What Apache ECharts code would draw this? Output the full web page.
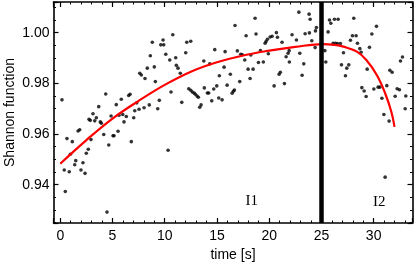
<!DOCTYPE html>
<html>
<head>
<meta charset="utf-8">
<script src="https://cdn.jsdelivr.net/npm/echarts@6/dist/echarts.min.js"></script>
<style>
html,body{margin:0;padding:0;background:#fff;}
#chart{width:415px;height:267px;}
</style>
</head>
<body>
<div id="chart"></div>
<script>
// measured time values of the scatter points [s]
const pointTime = [
0.16,0.38,0.48,0.64,0.86,0.96,1.15,1.38,1.48,1.70,
1.86,1.98,2.17,2.37,2.49,2.68,2.75,2.87,2.94,3.13,
3.30,3.45,3.68,3.83,3.93,4.16,4.35,4.47,4.64,4.86,
5.05,5.14,5.36,5.53,5.62,5.84,5.98,6.10,6.32,6.55,
6.68,6.80,7.03,7.13,7.32,7.54,7.61,7.76,8.02,8.11,
8.33,8.52,8.62,8.81,9.00,9.10,9.33,9.48,9.62,9.84,
9.90,10.10,10.32,10.48,10.60,10.77,11.05,11.11,11.27,11.49,
11.63,12.01,12.11,12.30,12.49,12.49,12.64,12.81,12.93,13.09,
13.22,13.35,13.48,13.74,13.79,14.08,14.21,14.31,14.50,14.69,
14.79,14.98,15.17,15.23,15.49,15.68,15.78,15.97,16.28,16.45,
16.57,16.67,16.73,16.95,17.18,17.28,17.43,17.66,17.79,17.98,
18.17,18.24,18.46,18.65,18.74,18.97,19.16,19.44,19.61,19.70,
19.83,19.92,20.09,20.28,20.47,20.69,20.79,20.95,21.07,21.23,
21.46,21.62,21.81,21.91,21.93,22.19,22.61,22.84,22.93,23.15,
23.31,23.44,23.82,23.85,23.92,24.08,24.40,24.43,24.52,25.33,
25.42,25.64,25.77,25.90,26.12,26.25,26.34,26.53,26.60,26.82,
26.92,27.11,27.30,27.43,27.62,27.78,27.97,28.10,28.32,28.45,
28.68,28.80,28.87,29.09,29.28,29.38,29.60,29.83,30.02,30.27,
30.43,30.59,30.79,30.98,31.10,31.26,31.48,31.55,31.77,32.06,
32.25,32.47,32.57,32.76,33.02,33.08
];
// Shannon function values of the scatter points
const pointValue = [
0.9735,0.9458,0.9373,0.9582,0.9451,0.9520,0.9570,0.9479,0.9495,0.9612,
0.9617,0.9458,0.9487,0.9445,0.9524,0.9540,0.9658,0.9654,0.9578,0.9680,
0.9652,0.9664,0.9708,0.9648,0.9643,0.9598,0.9758,0.9292,0.9557,0.9671,
0.9593,0.9593,0.9716,0.9611,0.9674,0.9737,0.9677,0.9648,0.9669,0.9752,
0.9757,0.9570,0.9664,0.9692,0.9723,0.9698,0.9840,0.9833,0.9704,0.9819,
0.9860,0.9715,0.9909,0.9962,0.9865,0.9807,0.9700,0.9733,0.9952,0.9971,
0.9952,0.9915,0.9536,0.9892,0.9766,0.9992,0.9901,0.9871,0.9860,0.9840,
0.9725,0.9921,0.9962,0.9779,0.9966,0.9773,0.9766,0.9762,0.9757,0.9750,
0.9745,0.9706,0.9715,0.9888,0.9782,0.9762,0.9762,0.9877,0.9731,0.9778,
0.9933,0.9790,0.9742,0.9830,0.9735,0.9864,0.9925,0.9793,0.9836,0.9761,
0.9769,0.9774,1.0028,0.9928,0.9807,0.9915,0.9913,0.9892,0.9988,0.9856,
0.9819,0.9912,0.9856,1.0057,0.9995,0.9882,0.9929,0.9884,0.9958,0.9965,
0.9974,0.9917,0.9983,0.9986,0.9790,1.0000,0.9982,0.9836,0.9844,0.9962,
0.9799,0.9905,0.9919,0.9929,0.9884,0.9992,0.9971,1.0081,0.9919,0.9832,
0.9877,0.9996,1.0073,0.9999,1.0053,0.9968,0.9941,1.0007,1.0020,0.9929,
0.9884,1.0003,1.0050,1.0037,0.9958,1.0053,0.9958,0.9957,1.0053,0.9957,
0.9873,0.9921,0.9830,0.9860,0.9873,0.9970,0.9988,1.0057,0.9988,0.9958,
0.9937,0.9923,0.9783,0.9770,0.9748,0.9856,0.9942,0.9995,0.9778,1.0025,
0.9785,0.9785,0.9741,0.9677,0.9430,0.9791,0.9651,0.9852,0.9844,0.9749,
0.9779,0.9775,0.9888,0.9904,0.9700,0.9750
];
// red fitted curve
const fitTime  = [0, 2.5, 5, 7.5, 10, 12.5, 15, 17.5, 20, 22.5, 25.2, 26.2, 27.1, 28.4, 29.3, 30.3, 31.1, 31.7, 32.0];
const fitValue = [0.9483, 0.9576, 0.9661, 0.9731, 0.9794, 0.9846, 0.9883, 0.9910, 0.9929, 0.9944, 0.9955, 0.9952, 0.9945, 0.9925, 0.9892, 0.9833, 0.9761, 0.9687, 0.9628];
// separator between intervals
const boundaryTime = 25;
// interval labels
const intervalNames = ['I1', 'I2'];
const intervalLabelPos = [[18.33, 0.9335], [30.53, 0.9332]];
// axis ranges and tick labels
const xRange = [-0.65, 33.72];
const yRange = [0.9249, 1.0121];
const xTickLabels = [0, 5, 10, 15, 20, 25, 30];
const yTickLabels = [0.94, 0.96, 0.98, 1.00];

const FONT = 'Liberation Sans, Arial, sans-serif';
const near = (v, arr) => arr.some(t => Math.abs(v - t) < 1e-6);

const chart = echarts.init(document.getElementById('chart'), null, {renderer: 'canvas'});

const frameLine = {show: true, onZero: false, lineStyle: {color: '#000', width: 1.6}};
const majorTick = {show: true, inside: true, length: 5, lineStyle: {color: '#000', width: 1.2}};
const minorTick = (n) => ({show: true, splitNumber: n, length: 2.5, lineStyle: {color: '#000', width: 1}});

const xBase = {
  type: 'value', min: xRange[0], max: xRange[1], minInterval: 5, maxInterval: 5,
  axisLine: frameLine, axisTick: majorTick, minorTick: minorTick(5),
  splitLine: {show: false}
};
const yBase = {
  type: 'value', min: yRange[0], max: yRange[1], minInterval: 0.02, maxInterval: 0.02,
  axisLine: frameLine, axisTick: majorTick, minorTick: minorTick(4),
  splitLine: {show: false}
};

chart.setOption({
  animation: false,
  backgroundColor: '#fff',
  grid: {left: 53.5, right: 2.5, top: 2, bottom: 44, containLabel: false, outerBoundsMode: 'none'},
  xAxis: [
    Object.assign({}, xBase, {
      position: 'bottom',
      name: 'time [s]', nameLocation: 'middle', nameGap: 25, nameMoveOverlap: false,
      nameTextStyle: {fontFamily: FONT, fontSize: 14, color: '#000'},
      axisLabel: {
        margin: 6, fontFamily: FONT, fontSize: 14, color: '#000',
        formatter: v => near(v, xTickLabels) ? String(Math.round(v)) : ''
      }
    }),
    Object.assign({}, xBase, {position: 'top', axisLabel: {show: false}})
  ],
  yAxis: [
    Object.assign({}, yBase, {
      position: 'left',
      name: 'Shannon function', nameLocation: 'middle', nameGap: 36, nameMoveOverlap: false,
      nameTextStyle: {fontFamily: FONT, fontSize: 14, color: '#000'},
      axisLabel: {
        margin: 4, fontFamily: FONT, fontSize: 14, color: '#000',
        formatter: v => near(v, yTickLabels) ? v.toFixed(2) : ''
      }
    }),
    Object.assign({}, yBase, {position: 'right', axisLabel: {show: false}})
  ],
  series: [
    {
      type: 'scatter',
      xAxisIndex: 0, yAxisIndex: 0,
      symbol: 'circle', symbolSize: 3.6,
      itemStyle: {color: '#000'},
      data: pointTime.map((t, i) => [t, pointValue[i]]),
      markLine: {
        silent: true, symbol: ['none', 'none'],
        label: {show: false},
        lineStyle: {color: '#000', width: 4.5, type: 'solid'},
        data: [{xAxis: boundaryTime}]
      },
      markPoint: {
        symbol: 'circle', symbolSize: 0,
        label: {
          show: true, position: 'inside', color: '#000',
          fontFamily: 'Liberation Serif, Times New Roman, serif', fontSize: 15,
          formatter: p => p.name
        },
        data: intervalNames.map((n, i) => ({name: n, coord: intervalLabelPos[i]}))
      }
    },
    {
      type: 'line',
      xAxisIndex: 0, yAxisIndex: 0,
      smooth: 0.4, showSymbol: false, symbol: 'none',
      lineStyle: {color: '#ff0000', width: 2.2},
      data: fitTime.map((t, i) => [t, fitValue[i]]),
      z: 3
    }
  ]
});
</script>
</body>
</html>
